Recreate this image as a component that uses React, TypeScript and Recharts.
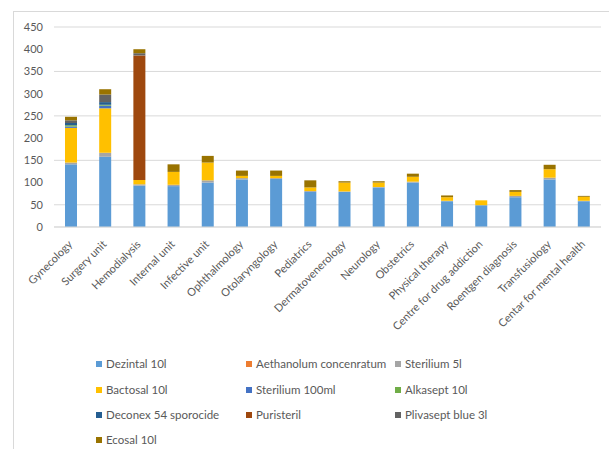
import { Bar, BarChart, CartesianGrid, XAxis, YAxis } from "recharts";

const units = [
  "Gynecology",
  "Surgery unit",
  "Hemodialysis",
  "Internal unit",
  "Infective  unit",
  "Ophthalmology",
  "Otolaryngology",
  "Pediatrics",
  "Dermatovenerology",
  "Neurology",
  "Obstetrics",
  "Physical therapy",
  "Centre for drug addiction",
  "Roentgen diagnosis",
  "Transfusiology",
  "Centar for mental health",
];

const dezintal = [141, 158, 93, 92, 100, 107, 108, 79, 79, 89, 100, 58, 49, 67, 107, 58];
const aethanolum = [0, 0, 0, 0, 0, 0, 0, 0, 0, 0, 0, 0, 0, 0, 0, 0];
const sterilium5 = [4, 9, 3, 3, 5, 3, 2, 2, 1, 1, 2, 1, 0, 3, 4, 1];
const bactosal = [78, 100, 10, 29, 40, 5, 5, 8, 20, 10, 11, 8, 11, 9, 19, 9];
const sterilium100 = [3, 6, 0, 0, 0, 0, 0, 0, 0, 0, 0, 0, 0, 0, 0, 0];
const alkasept = [3, 2, 0, 0, 0, 0, 0, 0, 0, 0, 0, 0, 0, 0, 0, 0];
const deconex = [5, 6, 0, 0, 0, 0, 0, 0, 0, 0, 0, 0, 0, 0, 0, 0];
const puristeril = [0, 0, 280, 0, 0, 0, 0, 0, 0, 0, 0, 0, 0, 0, 0, 0];
const plivasept = [6, 17, 5, 0, 0, 0, 0, 0, 0, 0, 0, 0, 0, 0, 0, 0];
const ecosal = [8, 12, 9, 17, 15, 12, 12, 16, 3, 3, 7, 4, 0, 4, 10, 2];

const yTicks = [0, 50, 100, 150, 200, 250, 300, 350, 400, 450];

const series = [
  { key: "dezintal", name: "Dezintal 10l", color: "#5B9BD5", values: dezintal },
  { key: "aethanolum", name: "Aethanolum concenratum", color: "#ED7D31", values: aethanolum },
  { key: "sterilium5", name: "Sterilium 5l", color: "#A5A5A5", values: sterilium5 },
  { key: "bactosal", name: "Bactosal 10l", color: "#FFC000", values: bactosal },
  { key: "sterilium100", name: "Sterilium 100ml", color: "#4472C4", values: sterilium100 },
  { key: "alkasept", name: "Alkasept 10l", color: "#70AD47", values: alkasept },
  { key: "deconex", name: "Deconex 54 sporocide", color: "#255E91", values: deconex },
  { key: "puristeril", name: "Puristeril", color: "#9E480E", values: puristeril },
  { key: "plivasept", name: "Plivasept blue 3l", color: "#636363", values: plivasept },
  { key: "ecosal", name: "Ecosal 10l", color: "#997300", values: ecosal },
];

const data = units.map((unit, i) => {
  const row: Record<string, string | number> = { unit };
  series.forEach((s) => {
    row[s.key] = s.values[i];
  });
  return row;
});

const FONT = "Lato, 'Liberation Sans', sans-serif";
const TEXT = "#595959";
const GRID = "#D9D9D9";

// Category names slanted at 45°, right end tucked under the bar
function UnitTick({ x, y, payload }: any) {
  const tx = x + 2;
  const ty = y + 10;
  return (
    <text
      x={tx}
      y={ty}
      textAnchor="end"
      fill={TEXT}
      fontSize={11}
      fontFamily={FONT}
      transform={`rotate(-45, ${tx}, ${ty})`}
    >
      {payload.value}
    </text>
  );
}

const legendCols = [96, 246, 395];
const legendRows = [357, 383, 408, 433];

export default function App() {
  return (
    <div
      style={{
        position: "absolute",
        left: 0,
        top: 0,
        width: 609,
        height: 449,
        overflow: "hidden",
        background: "#fff",
        fontFamily: FONT,
      }}
    >
      <div
        style={{
          position: "absolute",
          left: 13,
          top: 11,
          width: 620,
          height: 460,
          border: `1px solid ${GRID}`,
        }}
      />
      <div style={{ position: "absolute", left: 0, top: 0 }}>
        <BarChart
          width={609}
          height={350}
          data={data}
          margin={{ top: 27, right: 8, bottom: 0, left: 0 }}
        >
          <CartesianGrid stroke={GRID} vertical={false} />
          <XAxis
            dataKey="unit"
            interval={0}
            height={123}
            axisLine={{ stroke: GRID }}
            tickLine={false}
            tick={<UnitTick />}
          />
          <YAxis
            domain={[0, 450]}
            ticks={yTicks}
            width={54}
            axisLine={false}
            tickLine={false}
            tickMargin={5}
            tick={{ fill: TEXT, fontSize: 11, fontFamily: FONT }}
          />
          {series.map((s) => (
            <Bar
              key={s.key}
              dataKey={s.key}
              name={s.name}
              stackId="stock"
              fill={s.color}
              barSize={12}
              isAnimationActive={false}
            />
          ))}
        </BarChart>
      </div>
      {series.map((s, i) => (
        <div
          key={s.key}
          style={{
            position: "absolute",
            left: legendCols[i % 3],
            top: legendRows[Math.floor(i / 3)],
            display: "flex",
            alignItems: "center",
            fontSize: 11.5,
            color: TEXT,
            whiteSpace: "nowrap",
          }}
        >
          <span
            style={{
              width: 6,
              height: 6,
              background: s.color,
              marginRight: 4,
              display: "inline-block",
            }}
          />
          {s.name}
        </div>
      ))}
    </div>
  );
}
